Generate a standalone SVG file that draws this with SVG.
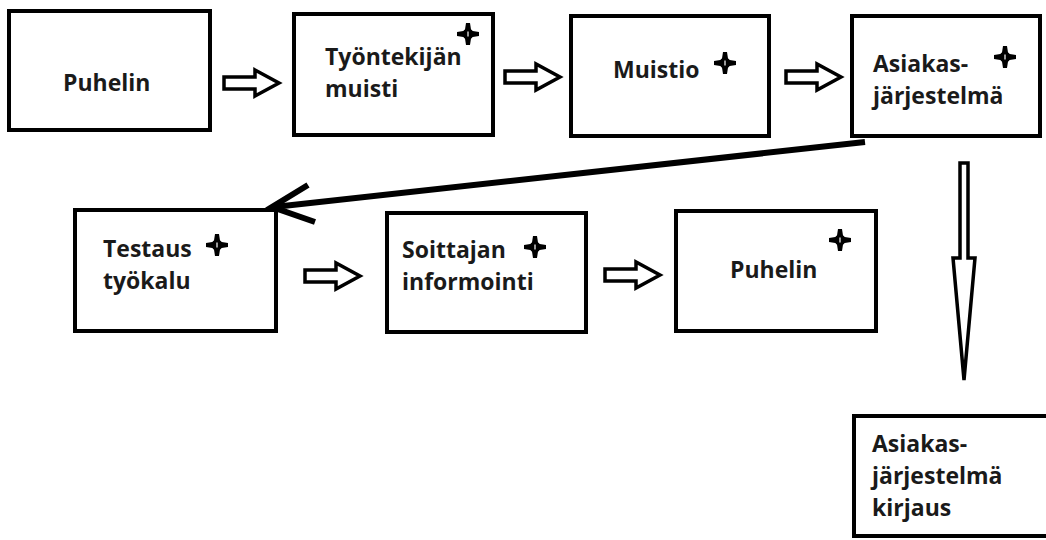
<svg xmlns="http://www.w3.org/2000/svg" width="1046" height="540" viewBox="0 0 1046 540">
  <style>
    .box { fill: #ffffff; stroke: #000000; stroke-width: 4; }
    .lbl { font-family: "Open Sans", "Liberation Sans", sans-serif; font-weight: 700; font-size: 23px; fill: #1a1a1a; }
    .hollow { fill: #ffffff; stroke: #000000; stroke-width: 3.5; stroke-linejoin: miter; }
    .thick { fill: none; stroke: #000000; stroke-width: 6; }
  </style>
  <defs>
    <!-- four-armed cross mark with a round body -->
    <g id="star">
      <path d="M-2,-11 L2,-11 L3.2,-3.2 L11,-2 L11,2 L3.2,3.2 L2,11 L-2,11 L-3.2,3.2 L-11,2 L-11,-2 L-3.2,-3.2 Z" fill="#000"/>
      <circle r="5.5" fill="#000"/>
      <rect x="-0.6" y="-2.5" width="1.2" height="5" fill="#fff"/>
    </g>
    <!-- small hollow block arrow pointing right -->
    <path id="blockArrow" d="M0,-6 H31 V-13 L55,0 L31,13 V6 H0 Z"/>
  </defs>

  <rect width="1046" height="540" fill="#ffffff"/>

  <g id="connectors">
    <use href="#blockArrow" class="hollow" x="224" y="83"/>
    <use href="#blockArrow" class="hollow" x="505" y="77"/>
    <use href="#blockArrow" class="hollow" x="786" y="77"/>
    <use href="#blockArrow" class="hollow" x="305" y="276"/>
    <use href="#blockArrow" class="hollow" x="605" y="275"/>
    <!-- long return arrow -->
    <line class="thick" x1="865" y1="142" x2="274" y2="207"/>
    <polyline class="thick" points="308,185 272,207 315,222"/>
    <!-- tall downward arrow -->
    <path class="hollow" stroke-width="3" d="M960,163 H968 V258 H975 L964,380 L953,258 H960 Z"/>
  </g>

  <g id="node-puhelin">
    <rect class="box" x="9" y="11" width="201" height="119"/>
    <text class="lbl" x="63" y="91">Puhelin</text>
  </g>

  <g id="node-tyontekijan-muisti">
    <rect class="box" x="294" y="14" width="199" height="121"/>
    <text class="lbl" x="325" y="65">Työntekijän</text>
    <text class="lbl" x="325" y="97">muisti</text>
    <use href="#star" x="468" y="34"/>
  </g>

  <g id="node-muistio">
    <rect class="box" x="571" y="16" width="198" height="120"/>
    <text class="lbl" x="613" y="78">Muistio</text>
    <use href="#star" x="725" y="63"/>
  </g>

  <g id="node-asiakasjarjestelma">
    <rect class="box" x="852" y="16" width="188" height="120"/>
    <text class="lbl" x="873" y="72">Asiakas-</text>
    <text class="lbl" x="873" y="104">järjestelmä</text>
    <use href="#star" x="1005" y="57"/>
  </g>

  <g id="node-testaus">
    <rect class="box" x="75" y="210" width="201" height="121"/>
    <text class="lbl" x="103" y="257">Testaus</text>
    <text class="lbl" x="103" y="289">työkalu</text>
    <use href="#star" x="217" y="245"/>
  </g>

  <g id="node-soittajan">
    <rect class="box" x="387" y="213" width="199" height="119"/>
    <text class="lbl" x="402" y="258">Soittajan</text>
    <text class="lbl" x="402" y="290">informointi</text>
    <use href="#star" x="535" y="247"/>
  </g>

  <g id="node-puhelin-2">
    <rect class="box" x="676" y="211" width="200" height="120"/>
    <text class="lbl" x="730" y="278">Puhelin</text>
    <use href="#star" x="840" y="240"/>
  </g>

  <g id="node-kirjaus">
    <rect class="box" x="854" y="416" width="200" height="120"/>
    <text class="lbl" x="872" y="452">Asiakas-</text>
    <text class="lbl" x="872" y="484">järjestelmä</text>
    <text class="lbl" x="872" y="516">kirjaus</text>
  </g>
</svg>
